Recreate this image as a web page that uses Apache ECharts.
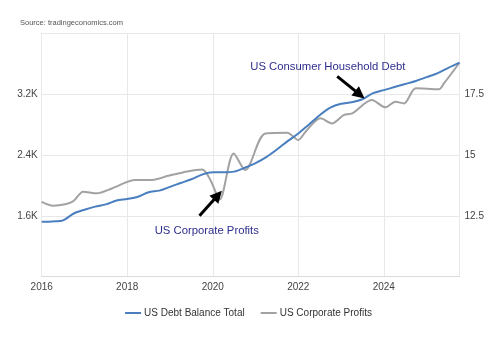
<!DOCTYPE html>
<html>
<head>
<meta charset="utf-8">
<script src="https://cdn.jsdelivr.net/npm/echarts@6/dist/echarts.min.js"></script>
<style>
  html, body { margin: 0; padding: 0; background: #fff; }
  #chart { width: 497px; height: 339px; }
</style>
</head>
<body>
<div id="chart"></div>
<script>
// US household debt balance (thousand billions USD), by decimal year
const debtYears = [2016.0, 2016.25, 2016.5, 2016.75, 2017.0, 2017.25, 2017.5, 2017.75,
  2018.0, 2018.25, 2018.5, 2018.75, 2019.0, 2019.25, 2019.5, 2019.75,
  2020.0, 2020.25, 2020.5, 2020.75, 2021.0, 2021.25, 2021.5, 2021.75,
  2022.0, 2022.25, 2022.5, 2022.75, 2023.0, 2023.25, 2023.5, 2023.75,
  2024.0, 2024.25, 2024.5, 2024.75, 2025.0, 2025.25, 2025.5, 2025.77];
const debtValues = [1.52, 1.525, 1.54, 1.63, 1.68, 1.72, 1.75, 1.80,
  1.82, 1.85, 1.91, 1.93, 1.98, 2.03, 2.08, 2.14,
  2.17, 2.17, 2.18, 2.23, 2.29, 2.37, 2.47, 2.58,
  2.68, 2.80, 2.92, 3.02, 3.07, 3.09, 3.13, 3.21,
  3.25, 3.29, 3.33, 3.37, 3.42, 3.47, 3.54, 3.61];

// US corporate profits (right axis), by decimal year
const profitYears = [2016.0, 2016.27, 2016.55, 2016.74, 2016.97, 2017.29, 2017.64, 2018.19,
  2018.58, 2018.96, 2019.3, 2019.75, 2019.95, 2020.16, 2020.49, 2020.76,
  2021.23, 2021.74, 2022.0, 2022.17, 2022.52, 2022.79, 2023.06, 2023.26,
  2023.72, 2024.04, 2024.27, 2024.47, 2024.75, 2025.29, 2025.41, 2025.77];
const profitValues = [13.07, 12.91, 12.97, 13.10, 13.49, 13.42, 13.62, 13.97,
  13.97, 14.14, 14.28, 14.40, 13.95, 13.17, 15.06, 14.38,
  15.88, 15.91, 15.61, 15.95, 16.50, 16.29, 16.63, 16.70,
  17.25, 16.95, 17.18, 17.11, 17.73, 17.69, 17.94, 18.78];

const yearTicks = [2016, 2018, 2020, 2022, 2024];
const leftTicks = [1.6, 2.4, 3.2];
const rightTicks = [12.5, 15, 17.5];

const seriesNames = ['US Debt Balance Total', 'US Corporate Profits'];
const sourceText = 'Source: tradingeconomics.com';
const debtNote = 'US Consumer Household Debt';
const profitNote = 'US Corporate Profits';

// arrow endpoints in data units: [year, left-axis value]
const debtArrow = [[2022.91, 3.43], [2023.44, 3.19]];
const profitArrow = [[2019.69, 1.60], [2020.12, 1.87]];
// note anchors in data units (text centre)
const debtNoteAt = [2022.69, 3.56];
const profitNoteAt = [2019.86, 1.40];

const chart = echarts.init(document.getElementById('chart'), null, { renderer: 'canvas' });

const gridColor = '#e8e8e8';
const labelColor = '#444';
const noteColor = '#2e2e8f';
const fontStack = '"Liberation Sans", Arial, sans-serif';

const near = (v, list) => list.some(t => Math.abs(t - v) < 1e-6);

const option = {
  animation: false,
  textStyle: { fontFamily: 'Liberation Sans, Arial, sans-serif' },
  grid: { left: 41.7, right: 37.5, top: 33, bottom: 62.3, containLabel: false },
  xAxis: {
    type: 'value', min: 2016, max: 2025.77, interval: 2,
    axisLine: { show: true, lineStyle: { color: '#dcdcdc', width: 1 } },
    axisTick: { show: false },
    splitLine: { show: true, lineStyle: { color: gridColor, width: 1 } },
    axisLabel: {
      color: labelColor, fontSize: 10, margin: 6,
      formatter: v => near(v, yearTicks) ? String(Math.round(v)) : ''
    }
  },
  yAxis: [
    {
      type: 'value', min: 0.8, max: 4.0, interval: 0.8, position: 'left',
      axisLine: { show: false }, axisTick: { show: false },
      splitLine: { show: true, lineStyle: { color: gridColor, width: 1 } },
      axisLabel: {
        color: labelColor, fontSize: 10, margin: 4,
        formatter: v => near(v, leftTicks) ? v.toFixed(1) + 'K' : ''
      }
    },
    {
      type: 'value', min: 10, max: 20, interval: 2.5, position: 'right',
      axisLine: { show: false }, axisTick: { show: false },
      splitLine: { show: false },
      axisLabel: {
        color: labelColor, fontSize: 10, margin: 5,
        formatter: v => near(v, rightTicks) ? String(v) : ''
      }
    }
  ],
  legend: {
    bottom: 16, left: 'center', itemWidth: 16, itemHeight: 2, itemGap: 16,
    icon: 'rect',
    textStyle: { color: '#333', fontSize: 10, padding: [0, 0, 0, -2] },
    data: seriesNames
  },
  series: [
    {
      name: seriesNames[0], type: 'line', yAxisIndex: 0,
      data: debtYears.map((y, i) => [y, debtValues[i]]),
      showSymbol: false, smooth: 0.3,
      lineStyle: { color: '#4a7fbf', width: 2 },
      itemStyle: { color: '#4a7fbf' },
      z: 3,
      markLine: {
        silent: true, animation: false,
        symbol: ['none', 'triangle'], symbolSize: [12, 12],
        label: { show: false },
        lineStyle: { color: '#000', width: 3, type: 'solid' },
        data: [
          [{ coord: debtArrow[0] }, { coord: debtArrow[1] }],
          [{ coord: profitArrow[0] }, { coord: profitArrow[1] }]
        ]
      }
    },
    {
      name: seriesNames[1], type: 'line', yAxisIndex: 1,
      data: profitYears.map((y, i) => [y, profitValues[i]]),
      showSymbol: false, smooth: 0.3,
      lineStyle: { color: '#a2a2a2', width: 2 },
      itemStyle: { color: '#a2a2a2' },
      z: 2
    }
  ]
};

chart.setOption(option);

// Notes and source line placed from axis coordinates
const p1 = chart.convertToPixel({ xAxisIndex: 0, yAxisIndex: 0 }, debtNoteAt);
const p2 = chart.convertToPixel({ xAxisIndex: 0, yAxisIndex: 0 }, profitNoteAt);
chart.setOption({
  graphic: [
    {
      type: 'text', left: 20, top: 19,
      style: { text: sourceText, fill: '#555', font: '7.5px ' + fontStack }
    },
    {
      type: 'text', x: p1[0], y: p1[1],
      style: { text: debtNote, fill: noteColor, font: '11.3px ' + fontStack,
               align: 'center', verticalAlign: 'middle' }
    },
    {
      type: 'text', x: p2[0], y: p2[1],
      style: { text: profitNote, fill: noteColor, font: '11.3px ' + fontStack,
               align: 'center', verticalAlign: 'middle' }
    }
  ]
});
</script>
</body>
</html>
